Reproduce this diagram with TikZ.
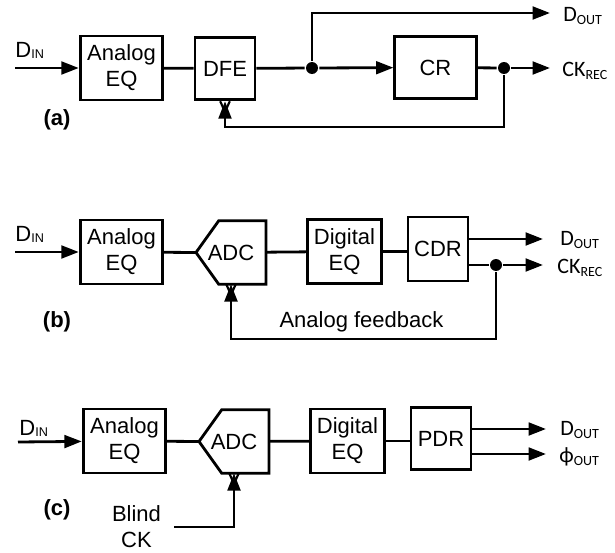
\documentclass[tikz,border=0pt]{standalone}
\usepackage{fontspec}
\setmainfont{Liberation Sans}
\newfontfamily\lblfont{Carlito}
\usetikzlibrary{arrows.meta}
\newcommand{\insig}[2]{#1\raisebox{-1.2pt}{\fontsize{9.5}{9.5}\selectfont #2}}
\newcommand{\outsig}[2]{{\lblfont #1\raisebox{-2.5pt}{\fontsize{10.5}{10.5}\selectfont #2}}}

\tikzset{every picture/.style={line width=2.1pt}}

\begin{document}
\begin{tikzpicture}[x=0.75pt,y=0.75pt,yscale=-1,xscale=1,
  font=\fontsize{16.5}{19.5}\selectfont,
  blk/.style={draw, minimum height=48pt, align=center, inner sep=0.75pt},
  adc/.style={minimum width=52.5pt, minimum height=47.5pt, inner sep=0.75pt, outer sep=0pt},
  arr/.style={-{Triangle[length=13pt,width=9.5pt]}},
  dot/.style={circle, fill, inner sep=0pt, minimum size=9pt},
  lbl/.style={anchor=base west, inner sep=0pt},
  tag/.style={anchor=base, inner sep=0pt, font=\fontsize{16.5}{19.5}\selectfont\bfseries}]
\useasboundingbox (0,0) rectangle (615,553);

%%%%% (a)
%Shape: Rectangle
\node (aeqA) at (121.5,68) [blk, minimum width=62pt] {Analog\\EQ};
\node (dfe) at (225,68.5) [blk, minimum width=45pt, minimum height=47pt] {DFE};
\node (cr) at (435.5,67.5) [blk, minimum width=61pt, minimum height=47pt] {CR};
%Shape: Dots
\node (dotA1) at (312,68) [dot] {};
\node (dotA2) at (504,68) [dot] {};
\coordinate (inA) at (15,68);
\coordinate (doutA) at (550,13);
\coordinate (ckA) at (550,68);
\coordinate (fbA) at (504,127);
%Straight Lines
\draw [arr] (inA) -- (aeqA);
\draw (aeqA) -- (dfe);
\draw (dfe) -- (dotA1);
\draw [arr] (dotA1) -- (cr);
\draw [arr] (dotA1) |- (doutA);
\draw (cr) -- (dotA2);
\draw [arr] (dotA2) -- (ckA);
\draw [arr] (dotA2) -- (fbA) -| (dfe.south);
%Clock mark
\draw [line width=1.6pt] ([xshift=-3.6pt]dfe.south) -- ([yshift=8pt]dfe.south) -- ([xshift=3.6pt]dfe.south);
% Text Node
\node (dinA) at (14,57) [lbl] {\insig{D}{IN}};
\node (doutAl) at (562,21.5) [lbl] {\outsig{D}{OUT}};
\node (ckAl) at (561,76) [lbl] {\outsig{CK}{REC}};
\node (tagA) at (57,125) [tag] {(a)};

%%%%% (b)
%Shape: Rectangle
\node (aeqB) at (121.5,252) [blk, minimum width=62pt] {Analog\\EQ};
\node (adcB) at (231,252.5) [adc] {ADC};
\draw (adcB.west) -- ([xshift=17pt]adcB.north west) -- (adcB.north east) -- (adcB.south east) -- ([xshift=17pt]adcB.south west) -- cycle;
\node (deqB) at (344.5,251.5) [blk, minimum width=56pt] {Digital\\EQ};
\node (cdr) at (438,249) [blk, minimum width=45pt] {CDR};
%Shape: Dots
\node (dotB) at (496,265) [dot] {};
\coordinate (inB) at (15,252);
\coordinate (doutB) at (543,239);
\coordinate (ckB) at (543,265);
\coordinate (fbB) at (496,339);
%Straight Lines
\draw [arr] (inB) -- (aeqB);
\draw (aeqB) -- (adcB.west);
\draw (adcB) -- (deqB);
\draw (deqB.east) -- (deqB.east -| cdr.west);
\draw [arr] (doutB -| cdr.east) -- (doutB);
\draw (ckB -| cdr.east) -- (dotB);
\draw [arr] (dotB) -- (ckB);
\draw [arr] (dotB) -- (fbB) -| (adcB.south);
%Clock mark
\draw [line width=1.6pt] ([xshift=-3.6pt]adcB.south) -- ([yshift=8pt]adcB.south) -- ([xshift=3.6pt]adcB.south);
% Text Node
\node (dinB) at (14,241) [lbl] {\insig{D}{IN}};
\node (doutBl) at (559,245) [lbl] {\outsig{D}{OUT}};
\node (ckBl) at (556,273) [lbl] {\outsig{CK}{REC}};
\node (fbBl) at (361.5,327) [anchor=base, inner sep=0pt] {Analog feedback};
\node (tagB) at (57,327) [tag] {(b)};

%%%%% (c)
%Shape: Rectangle
\node (aeqC) at (124.5,441) [blk, minimum width=62pt] {Analog\\EQ};
\node (adcC) at (234,441.5) [adc] {ADC};
\draw (adcC.west) -- ([xshift=17pt]adcC.north west) -- (adcC.north east) -- (adcC.south east) -- ([xshift=17pt]adcC.south west) -- cycle;
\node (deqC) at (347.5,441) [blk, minimum width=55pt] {Digital\\EQ};
\node (pdr) at (441,438.5) [blk, minimum width=45pt, minimum height=47pt] {PDR};
\coordinate (inC) at (18,442);
\coordinate (doutC) at (546,429);
\coordinate (phC) at (546,454);
%Straight Lines
\draw [arr] (inC) -- (aeqC);
\draw (aeqC) -- (adcC.west);
\draw (adcC) -- (deqC);
\draw (deqC.east) -- (deqC.east -| pdr.west);
\draw [arr] (doutC -| pdr.east) -- (doutC);
\draw [arr] (phC -| pdr.east) -- (phC);
%Clock mark
\draw [line width=1.6pt] ([xshift=-3.6pt]adcC.south) -- ([yshift=8pt]adcC.south) -- ([xshift=3.6pt]adcC.south);
% Text Node
\node (blind) at (136.5,527) [align=center, inner sep=0.75pt] {Blind\\CK};
\draw [arr] ([xshift=8pt]blind.east) -| (adcC.south);
\node (dinC) at (18,435) [lbl] {\insig{D}{IN}};
\node (doutCl) at (559,435) [lbl] {\outsig{D}{OUT}};
\node (phCl) at (558,462) [lbl] {\outsig{ϕ}{OUT}};
\node (tagC) at (57,515) [tag] {(c)};

\end{tikzpicture}
\end{document}
